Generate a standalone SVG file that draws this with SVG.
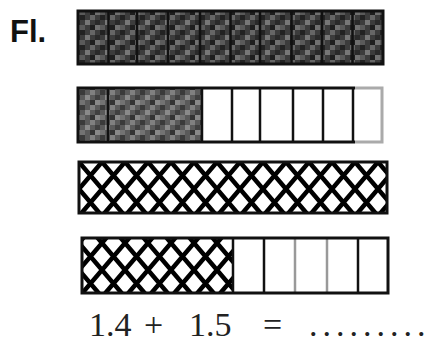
<svg xmlns="http://www.w3.org/2000/svg" width="437" height="345" viewBox="0 0 437 345">
  <defs>
    <pattern id="noiseDark" width="20" height="15" patternUnits="userSpaceOnUse">
      <rect width="20" height="15" fill="#3c3c3c"/>
      <rect x="0" y="0" width="5" height="5" fill="#222"/>
      <rect x="10" y="0" width="5" height="5" fill="#666"/>
      <rect x="5" y="5" width="5" height="5" fill="#777"/>
      <rect x="15" y="5" width="5" height="5" fill="#2a2a2a"/>
      <rect x="0" y="10" width="5" height="5" fill="#5a5a5a"/>
      <rect x="10" y="10" width="5" height="5" fill="#1e1e1e"/>
      <rect x="15" y="10" width="5" height="5" fill="#707070"/>
    </pattern>
    <pattern id="noiseMid" width="20" height="15" patternUnits="userSpaceOnUse">
      <rect width="20" height="15" fill="#5a5a5a"/>
      <rect x="0" y="0" width="5" height="5" fill="#3a3a3a"/>
      <rect x="10" y="0" width="5" height="5" fill="#808080"/>
      <rect x="5" y="5" width="5" height="5" fill="#8a8a8a"/>
      <rect x="15" y="5" width="5" height="5" fill="#404040"/>
      <rect x="0" y="10" width="5" height="5" fill="#737373"/>
      <rect x="10" y="10" width="5" height="5" fill="#333"/>
      <rect x="15" y="10" width="5" height="5" fill="#888"/>
    </pattern>
    <pattern id="hatch" x="79" y="162" width="23" height="27" patternUnits="userSpaceOnUse">
      <rect width="23" height="27" fill="#fff"/>
      <path d="M0,0 L23,27 M23,0 L0,27 M-11.5,13.5 L11.5,40.5 M11.5,-13.5 L34.5,13.5 M34.5,13.5 L11.5,40.5 M11.5,-13.5 L-11.5,13.5" stroke="#000" stroke-width="4.5"/>
    </pattern>
    <style>
      .frame{fill:none;stroke:#111;stroke-width:3}
      .div{stroke:#111;stroke-width:2.5}
      .lite{stroke:#999;stroke-width:2.5}
      .math{font-family:"Liberation Serif","Times New Roman",serif;font-size:34px;fill:#222}
      .lbl{font-family:"Liberation Sans",Arial,sans-serif;font-weight:bold;font-size:31px;fill:#111}
    </style>
  </defs>

  <g id="label">
    <text class="lbl" x="10" y="42">Fl.</text>
  </g>

  <g id="bar1">
    <rect x="78" y="11" width="305" height="53" fill="url(#noiseDark)"/>
    <g class="div">
      <line x1="108.5" y1="11" x2="108.5" y2="64"/>
      <line x1="137" y1="11" x2="137" y2="64"/>
      <line x1="168" y1="11" x2="168" y2="64"/>
      <line x1="200" y1="11" x2="200" y2="64"/>
      <line x1="230.5" y1="11" x2="230.5" y2="64"/>
      <line x1="260" y1="11" x2="260" y2="64"/>
      <line x1="291.5" y1="11" x2="291.5" y2="64"/>
      <line x1="322" y1="11" x2="322" y2="64"/>
      <line x1="352.5" y1="11" x2="352.5" y2="64"/>
    </g>
    <rect class="frame" x="78" y="11" width="305" height="53"/>
  </g>

  <g id="bar2">
    <rect x="78" y="88" width="124" height="54" fill="url(#noiseMid)"/>
    <rect x="202" y="88" width="181" height="54" fill="#fff"/>
    <g class="div">
      <line x1="108" y1="88" x2="108" y2="142"/>
      <line x1="202" y1="88" x2="202" y2="142"/>
      <line x1="232" y1="88" x2="232" y2="142"/>
      <line x1="260" y1="88" x2="260" y2="142"/>
      <line x1="293" y1="88" x2="293" y2="142"/>
      <line x1="323" y1="88" x2="323" y2="142"/>
      <line x1="353" y1="88" x2="353" y2="142"/>
    </g>
    <path class="frame" d="M355,88 L78,88 L78,142 L355,142"/>
    <path d="M355,88 L382,88 L382,142 L355,142" fill="none" stroke="#aaa" stroke-width="3"/>
  </g>

  <g id="bar3">
    <rect x="79" y="162" width="308" height="51" fill="url(#hatch)"/>
    <rect class="frame" x="79" y="162" width="308" height="51"/>
  </g>

  <g id="bar4">
    <rect x="82" y="238" width="151" height="55" fill="url(#hatch)"/>
    <rect x="233" y="238" width="155" height="55" fill="#fff"/>
    <g class="div">
      <line x1="233" y1="238" x2="233" y2="293"/>
      <line x1="264" y1="238" x2="264" y2="293"/>
      <line x1="358" y1="238" x2="358" y2="293"/>
    </g>
    <g class="lite">
      <line x1="295" y1="238" x2="295" y2="293"/>
      <line x1="327" y1="238" x2="327" y2="293"/>
    </g>
    <rect class="frame" x="82" y="238" width="306" height="55"/>
  </g>

  <g id="equation">
    <text class="math" x="89" y="336">1.4</text>
    <text class="math" x="144" y="336">+</text>
    <text class="math" x="189" y="336">1.5</text>
    <text class="math" x="263" y="336">=</text>
    <text class="math" x="309" y="336" letter-spacing="5">.........</text>
  </g>
</svg>
